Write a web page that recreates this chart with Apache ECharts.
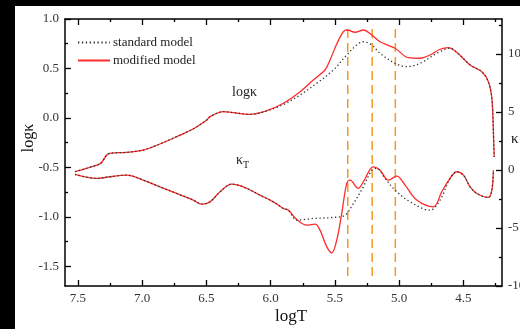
<!DOCTYPE html>
<html>
<head>
<meta charset="utf-8">
<script src="https://cdn.jsdelivr.net/npm/echarts@6/dist/echarts.min.js"></script>
<style>
  html, body { margin: 0; padding: 0; background: #fff; }
  #chart { width: 520px; height: 329px; }
</style>
</head>
<body>
<div id="chart"></div>
<script>
// Opacity (log kappa) and its temperature derivative kappa_T against log T
const logkModT = [7.522, 7.335, 7.314, 7.275, 7.25, 7.12, 6.991, 6.861, 6.731, 6.604, 6.497, 6.472, 6.368, 6.293, 6.161, 6.03, 5.901, 5.771, 5.668, 5.577, 5.538, 5.486, 5.434, 5.405, 5.343, 5.279, 5.213, 5.149, 5.032, 4.928, 4.837, 4.76, 4.682, 4.617, 4.552, 4.448, 4.357, 4.306, 4.279, 4.267, 4.261];
const logkModV = [-0.544, -0.469, -0.449, -0.375, -0.358, -0.348, -0.325, -0.264, -0.19, -0.112, -0.021, 0.012, 0.063, 0.053, 0.036, 0.073, 0.148, 0.265, 0.383, 0.484, 0.585, 0.747, 0.872, 0.889, 0.866, 0.889, 0.838, 0.77, 0.704, 0.609, 0.603, 0.636, 0.694, 0.71, 0.663, 0.535, 0.467, 0.366, 0.198, -0.14, -0.395];

const logkStdT = [7.522, 7.335, 7.314, 7.275, 7.25, 7.12, 6.991, 6.861, 6.731, 6.604, 6.497, 6.472, 6.368, 6.293, 6.161, 6.03, 5.901, 5.771, 5.641, 5.512, 5.408, 5.33, 5.279, 5.213, 5.149, 5.032, 4.941, 4.837, 4.707, 4.604, 4.552, 4.448, 4.357, 4.306, 4.279, 4.267, 4.261];
const logkStdV = [-0.544, -0.469, -0.449, -0.375, -0.358, -0.348, -0.325, -0.264, -0.19, -0.112, -0.021, 0.012, 0.063, 0.053, 0.036, 0.07, 0.135, 0.232, 0.35, 0.484, 0.636, 0.737, 0.77, 0.737, 0.653, 0.552, 0.518, 0.552, 0.653, 0.704, 0.663, 0.535, 0.467, 0.366, 0.198, -0.14, -0.395];

const kTModT = [7.522, 7.353, 7.25, 7.12, 6.991, 6.861, 6.731, 6.602, 6.536, 6.472, 6.394, 6.303, 6.212, 6.083, 5.979, 5.901, 5.862, 5.797, 5.719, 5.654, 5.616, 5.563, 5.524, 5.486, 5.447, 5.408, 5.382, 5.318, 5.279, 5.201, 5.149, 5.084, 5.019, 4.954, 4.863, 4.734, 4.669, 4.604, 4.552, 4.5, 4.448, 4.396, 4.306, 4.279, 4.267];
const kTModV = [-0.39, -0.73, -0.59, -0.45, -0.88, -1.46, -2.03, -2.6, -2.95, -2.75, -1.89, -1.22, -1.46, -2.17, -2.75, -3.32, -3.47, -4.27, -4.76, -4.67, -5.19, -6.63, -7.15, -6.05, -3.75, -1.16, -0.88, -1.59, -1.03, 0.27, -0.02, -0.88, -0.53, -1.31, -2.6, -3.18, -1.89, -0.73, -0.16, -0.45, -1.46, -2.03, -2.37, -1.74, -0.02];

const kTStdT = [7.522, 7.353, 7.25, 7.12, 6.991, 6.861, 6.731, 6.602, 6.536, 6.472, 6.394, 6.303, 6.212, 6.083, 5.979, 5.901, 5.862, 5.797, 5.668, 5.512, 5.421, 5.356, 5.279, 5.213, 5.174, 5.11, 5.032, 4.915, 4.76, 4.682, 4.604, 4.552, 4.5, 4.448, 4.396, 4.306, 4.279, 4.267];
const kTStdV = [-0.39, -0.73, -0.59, -0.45, -0.88, -1.46, -2.03, -2.6, -2.95, -2.75, -1.89, -1.22, -1.46, -2.17, -2.75, -3.32, -3.47, -4.33, -4.18, -4.09, -3.9, -2.89, -1.46, -0.02, 0.13, -0.73, -1.74, -2.75, -3.47, -2.6, -0.73, -0.16, -0.45, -1.46, -2.03, -2.37, -1.74, -0.02];

// Vertical reference temperatures and the span of the guide lines (log kappa units)
const dashT = [5.40, 5.21, 5.03];
const dashSpan = [-1.6, 0.94];

// Tick positions
const xMajor = [7.5, 7.0, 6.5, 6.0, 5.5, 5.0, 4.5];
const xMinor = [7.25, 6.75, 6.25, 5.75, 5.25, 4.75, 4.25];
const yLeftMajor = [-1.5, -1.0, -0.5, 0.0, 0.5, 1.0];
const yLeftMinor = [-1.25, -0.75, -0.25, 0.25, 0.75];
const yRightMajor = [-10, -5, 0, 5, 10];
const yRightMinor = [-7.5, -2.5, 2.5, 7.5, 12.5];

const zip = (a, b) => a.map((v, i) => [v, b[i]]);

const FONT = "'Liberation Serif', 'Times New Roman', serif";
const RED = '#ff2a2a';
const DOT = '#333333';
const ORANGE = '#f39a24';
const AXIS_LINE = { color: '#000', width: 1.5 };

function xAx(pos, vals, len, labels) {
  return {
    type: 'value', min: 4.2, max: 7.6, inverse: true, position: pos,
    axisLine: { show: len > 4, onZero: false, lineStyle: AXIS_LINE },
    axisTick: { show: true, inside: true, length: len, customValues: vals, lineStyle: { color: '#000', width: 1.3 } },
    axisLabel: labels ? { show: true, customValues: vals, margin: 6, color: '#333', fontFamily: FONT, fontSize: 13,
                          formatter: v => v.toFixed(1) } : { show: false },
    splitLine: { show: false }
  };
}
function yAx(pos, min, max, vals, len, fmt, showLine) {
  return {
    type: 'value', min: min, max: max, position: pos,
    axisLine: { show: showLine, onZero: false, lineStyle: AXIS_LINE },
    axisTick: { show: true, inside: true, length: len, customValues: vals, lineStyle: { color: '#000', width: 1.3 } },
    axisLabel: fmt ? { show: true, customValues: vals, margin: 6, color: '#333', fontFamily: FONT, fontSize: 13, formatter: fmt } : { show: false },
    splitLine: { show: false }
  };
}

const series = [
  { name: 'modified model', type: 'line', xAxisIndex: 0, yAxisIndex: 0, data: zip(logkModT, logkModV),
    smooth: 0.35, showSymbol: false, symbol: 'none', lineStyle: { color: RED, width: 1.3 }, itemStyle: { color: RED }, z: 3 },
  { name: 'modified model', type: 'line', xAxisIndex: 0, yAxisIndex: 1, data: zip(kTModT, kTModV),
    smooth: 0.35, showSymbol: false, symbol: 'none', lineStyle: { color: RED, width: 1.3 }, itemStyle: { color: RED }, z: 3 },
  { name: 'standard model', type: 'line', xAxisIndex: 0, yAxisIndex: 0, data: zip(logkStdT, logkStdV),
    smooth: 0.35, showSymbol: false, symbol: 'none', lineStyle: { color: DOT, width: 1.3, type: [1.3, 2.6] }, itemStyle: { color: DOT }, z: 4 },
  { name: 'standard model', type: 'line', xAxisIndex: 0, yAxisIndex: 1, data: zip(kTStdT, kTStdV),
    smooth: 0.35, showSymbol: false, symbol: 'none', lineStyle: { color: DOT, width: 1.3, type: [1.3, 2.6] }, itemStyle: { color: DOT }, z: 4 }
];
dashT.forEach(t => {
  series.push({ name: 'guide', type: 'line', xAxisIndex: 0, yAxisIndex: 0, silent: true,
    data: [[t, dashSpan[0]], [t, dashSpan[1]]], showSymbol: false, symbol: 'none',
    lineStyle: { color: ORANGE, width: 1.5, type: [9, 5] }, z: 2 });
});

const chart = echarts.init(document.getElementById('chart'), null, { renderer: 'canvas' });
chart.setOption({
  backgroundColor: '#fff',
  animation: false,
  textStyle: { fontFamily: FONT },
  grid: { left: 65, top: 19, right: 18, bottom: 43, containLabel: false, outerBoundsMode: 'none' },
  legend: {
    data: ['standard model', 'modified model'], orient: 'vertical', left: 72, top: 31,
    itemWidth: 32, itemHeight: 12, itemGap: 5, selectedMode: false,
    itemStyle: { opacity: 0 },
    textStyle: { fontFamily: FONT, fontSize: 13, color: '#222', padding: [0, 0, 0, -2] }
  },
  xAxis: [xAx('bottom', xMajor, 6, true), xAx('top', xMajor, 6, false), xAx('bottom', xMinor, 3, false), xAx('top', xMinor, 3, false)],
  yAxis: [
    yAx('left', -1.7, 1.0, yLeftMajor, 6, v => v.toFixed(1), true),
    yAx('right', -10, 13, yRightMajor, 6, v => String(v), true),
    yAx('left', -1.7, 1.0, yLeftMinor, 3, null, false),
    yAx('right', -10, 13, yRightMinor, 3, null, false)
  ],
  graphic: [
    { type: 'text', left: 232, top: 85, style: { text: 'logκ', font: '14px ' + FONT, fill: '#222' } },
    { type: 'text', left: 236, top: 153, style: { text: '{k|κ}{t|T}', font: '14px ' + FONT, fill: '#222',
        rich: { k: { fontSize: 14, fontFamily: FONT, fill: '#222' }, t: { fontSize: 10, fontFamily: FONT, fill: '#222', padding: [10, 0, 0, 0] } } } },
    { type: 'text', x: 29, y: 138, rotation: Math.PI / 2, style: { text: 'logκ', font: '16px ' + FONT, fill: '#111', align: 'center', verticalAlign: 'middle' } },
    { type: 'text', x: 291, y: 317, style: { text: 'logT', font: '17px ' + FONT, fill: '#111', align: 'center', verticalAlign: 'middle' } },
    { type: 'text', x: 511, y: 139, style: { text: 'κ', font: '15px ' + FONT, fill: '#111', align: 'left', verticalAlign: 'middle' } },
    { type: 'rect', shape: { x: 0, y: 0, width: 520, height: 6 }, style: { fill: '#000' }, z: 100 },
    { type: 'rect', shape: { x: 0, y: 0, width: 15, height: 329 }, style: { fill: '#000' }, z: 100 }
  ],
  series: series
});
</script>
</body>
</html>
